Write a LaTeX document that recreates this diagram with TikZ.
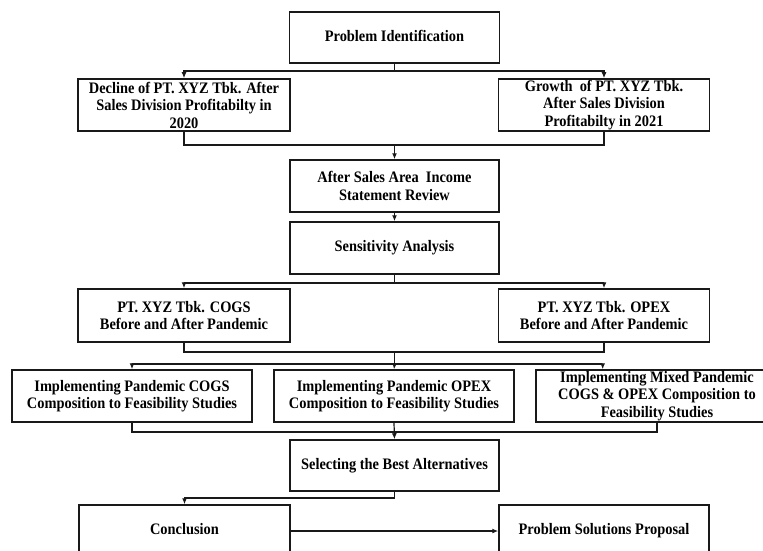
\documentclass[tikz,border=0pt]{standalone}
\usepackage{fontspec}
\setmainfont{Liberation Serif}[FakeStretch=0.9]
\usetikzlibrary{arrows.meta,calc}
\begin{document}
\begin{tikzpicture}[x=1pt,y=-1pt,
  box/.style={draw=black!90, line width=1.5pt, inner sep=0pt, align=center,
    font=\fontsize{16}{17.5}\selectfont\bfseries},
  oneline/.style={text height=11pt, text depth=3.5pt},
  conn/.style={line width=1.2pt, draw=black!90},
  arr/.style={conn,-{Latex[length=6pt,width=5pt]}}]
\clip (0,0) rectangle (763,551);
\fill[white] (0,0) rectangle (763,551);

\node[box, oneline, minimum width=210pt, minimum height=51pt] (pi) at (394.5,37.5) {Problem Identification};
\node[box, minimum width=212pt, minimum height=52pt] (dec) at (184,105)
  {Decline of PT. XYZ Tbk. After\\Sales Division Profitabilty in\\2020};
\node[box, minimum width=211pt, minimum height=52pt] (gro) at (604,105)
  {Growth\ \ of PT. XYZ Tbk.\\After Sales Division\\Profitabilty in 2021};
\node[box, minimum width=209pt, minimum height=52pt] (asr) at (394.5,186)
  {After Sales Area\ \ Income\\Statement Review};
\node[box, oneline, minimum width=209pt, minimum height=52pt] (sen) at (394.5,248) {Sensitivity Analysis};
\node[box, minimum width=212pt, minimum height=53pt] (cogs) at (184,315.5)
  {PT. XYZ Tbk. COGS\\Before and After Pandemic};
\node[box, minimum width=211pt, minimum height=53pt] (opex) at (604,315.5)
  {PT. XYZ Tbk. OPEX\\Before and After Pandemic};
\node[box, minimum width=240pt, minimum height=52pt] (im1) at (132,396)
  {Implementing Pandemic COGS\\Composition to Feasibility Studies};
\node[box, minimum width=240pt, minimum height=52pt] (im2) at (394,396)
  {Implementing Pandemic OPEX\\Composition to Feasibility Studies};
\node[box, minimum width=242pt, minimum height=52pt] (im3) at (657,396)
  {Implementing Mixed Pandemic\\COGS \& OPEX Composition to\\Feasibility Studies};
\node[box, oneline, minimum width=209pt, minimum height=51pt] (sel) at (394.5,465.5) {Selecting the Best Alternatives};
\node[box, oneline, minimum width=211pt, minimum height=52pt] (con) at (184.5,531) {Conclusion};
\node[box, oneline, minimum width=210pt, minimum height=52pt] (psp) at (604,531) {Problem Solutions Proposal};

\coordinate (j1) at (394.5,71);
\coordinate (j2) at (394.5,145);
\coordinate (j3) at (394.5,283);
\coordinate (j4) at (394.5,352);
\coordinate (j5) at (394.5,364);
\coordinate (j6) at (394.5,432);
\coordinate (j7) at (394.5,498);

\draw[conn] (pi.south) -- (j1);
\draw[arr] (j1) -| (dec.north);
\draw[arr] (j1) -| (gro.north);
\draw[conn] (dec.south) |- (j2) -| (gro.south);
\draw[arr] (j2) -- (asr.north);
\draw[arr] (asr.south) -- (sen.north);
\draw[conn] (sen.south) -- (j3);
\draw[arr] (j3) -| (cogs.north);
\draw[arr] (j3) -| (opex.north);
\draw[conn] (cogs.south) |- (j4) -| (opex.south);
\draw[conn] (j4) -- (j5);
\draw[arr] (j5) -| (im1.north);
\draw[arr] (j5) -- (im2.north);
\draw[arr] (j5) -| ($(im3.north west)!0.277!(im3.north east)$);
\draw[conn] (im1.south) |- (j6) -| (im3.south);
\draw[arr] (im2.south) -- (sel.north);
\draw[conn] (sel.south) -- (j7);
\draw[arr] (j7) -| (con.north);
\draw[arr] (con.east) -- (psp.west);
\end{tikzpicture}
\end{document}
